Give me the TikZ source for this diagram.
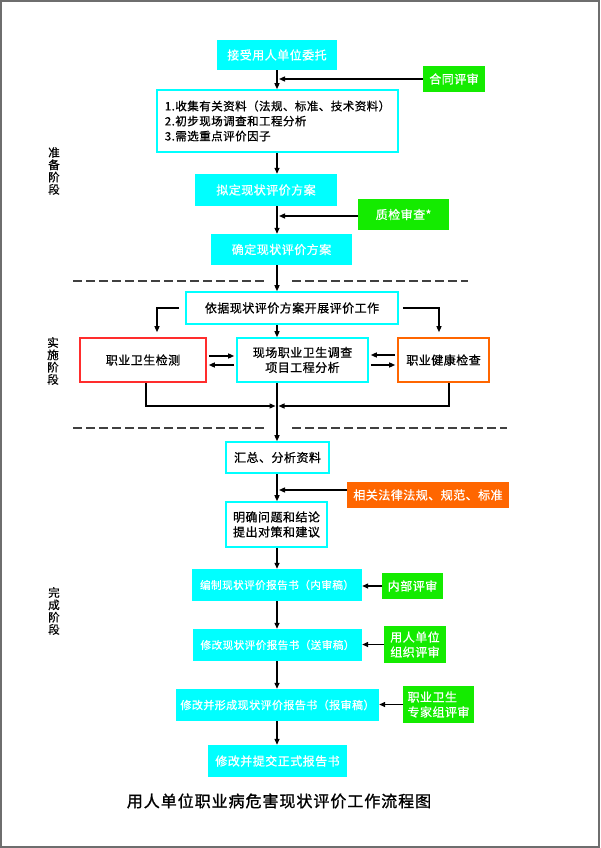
\documentclass[tikz,border=0pt]{standalone}
\usepackage{fontspec}
\setmainfont{Noto Sans CJK SC}[LetterSpace=4,FakeBold=0.8]
\newfontfamily\titlefont{Noto Sans CJK SC}[LetterSpace=6,FakeBold=1.2]
\usetikzlibrary{arrows.meta}
\definecolor{cy}{RGB}{0,255,255}
\definecolor{gr}{RGB}{20,235,0}
\definecolor{og}{RGB}{255,102,0}
\definecolor{rd}{RGB}{255,45,45}
\definecolor{framec}{RGB}{110,110,110}
\newcommand\mkbox[7]{%
  \pgfmathsetmacro\bw{#5-#3}\pgfmathsetmacro\bh{#6-#4}%
  \node[#1, minimum width=\bw pt, minimum height=\bh pt] (#2) at ({(#3+#5)/2},{(#4+#6)/2}) {#7};}
\tikzset{
  box/.style={inner sep=0pt, align=center, font=\fontsize{12}{15}\selectfont},
  cbox/.style={box, fill=cy, text=white},
  obox/.style={box, draw=cy, line width=1.6pt, fill=white, text=black},
  rbox/.style={box, draw=rd, line width=1.6pt, fill=white, text=black},
  orbox/.style={box, draw=og, line width=1.6pt, fill=white, text=black},
  gbox/.style={box, fill=gr, text=white},
  ofbox/.style={box, fill=og, text=white},
  smallfont/.style={font=\fontsize{10.6}{15}\selectfont},
  stage/.style={inner sep=0pt, align=center, font=\fontsize{11.5}{12.3}\selectfont},
  arr/.style={line width=1.3pt, black, -{Triangle[length=6pt,width=5pt]}},
  dsh/.style={line width=1.3pt, black!75, dash pattern=on 9pt off 4pt},
}
\begin{document}
\begin{tikzpicture}[x=1pt,y=-1pt]
\useasboundingbox (0,0) rectangle (600,848);
\fill[white] (0,0) rectangle (600,848);
\draw[framec, line width=2pt] (1,1) rectangle (599,847);

\coordinate (sp) at (277,0);
\coordinate (rl) at (157,0);
\coordinate (rr) at (439,0);
\coordinate (cl) at (146,0);
\coordinate (cr) at (449,0);
\coordinate (jn) at (277,406);

\mkbox{cbox}{b1}{217}{40}{337}{70}{接受用人单位委托}
\mkbox{gbox}{g1}{423}{66}{485}{92}{合同评审}
\mkbox{obox,align=left,font=\fontsize{11.5}{15}\selectfont}{b2}{157}{90}{398}{152}{1.收集有关资料（法规、标准、技术资料）\\2.初步现场调查和工程分析\\3.需选重点评价因子}
\mkbox{cbox}{b3}{195}{174}{337}{206}{拟定现状评价方案}
\mkbox{gbox}{g2}{358}{199}{449}{230}{质检审查*}
\mkbox{cbox}{b4}{211}{234}{352}{265}{确定现状评价方案}
\mkbox{obox}{b5}{186}{292}{398}{324}{依据现状评价方案开展评价工作}
\mkbox{rbox}{r1}{80}{338}{206}{382}{职业卫生检测}
\mkbox{obox}{b6}{237}{338}{368}{382}{现场职业卫生调查\\项目工程分析}
\mkbox{orbox}{r2}{398}{338}{489}{382}{职业健康检查}
\mkbox{obox}{b7}{226}{442}{329}{473}{汇总、分析资料}
\mkbox{ofbox}{o1}{347}{482}{509}{508}{相关法律法规、规范、标准}
\mkbox{obox}{b8}{226}{502}{327}{547}{明确问题和结论\\提出对策和建议}
\mkbox{cbox,smallfont}{b9}{192}{569}{362}{601}{编制现状评价报告书（内审稿）}
\mkbox{gbox}{g3}{382}{573}{443}{599}{内部评审}
\mkbox{cbox,smallfont}{b10}{193}{629}{362}{661}{修改现状评价报告书（送审稿）}
\mkbox{gbox}{g4}{384}{626}{446}{663}{用人单位\\组织评审}
\mkbox{cbox,font=\fontsize{11}{15}\selectfont}{b11}{176}{689}{379}{721}{修改并形成现状评价报告书（报审稿）}
\mkbox{gbox,align=left}{g5}{403}{686}{474}{723}{职业卫生\\专家组评审}
\mkbox{cbox}{b12}{208}{745}{347}{777}{修改并提交正式报告书}

\node[stage] (s1) at (54,171) {准\\备\\阶\\段};
\node[stage] (s2) at (53,361) {实\\施\\阶\\段};
\node[stage] (s3) at (54,611) {完\\成\\阶\\段};

\node[inner sep=0pt, font=\titlefont\fontsize{16}{18}\selectfont] (title) at (279,801) {用人单位职业病危害现状评价工作流程图};

% dashed separators
\draw[dsh] (73,281) -- (265,281);
\draw[dsh] (292,281) -- (468,281);
\draw[dsh] (73,428) -- (265,428);
\draw[dsh] (292,428) -- (507,428);

% connectors
\draw[arr] (b1.south -| sp) -- (b2.north -| sp);
\draw[arr] (g1.west) -- ([xshift=2pt]g1.west -| sp);
\draw[arr] (b2.south -| sp) -- (b3.north -| sp);
\draw[arr] ([yshift=-1.5pt]g2.west) -- ([xshift=2pt,yshift=-1.5pt]g2.west -| sp);
\draw[arr] (b3.south -| sp) -- (b4.north -| sp);
\draw[arr] (b4.south -| sp) -- (b5.north -| sp);

\draw[arr] ([xshift=-6pt]b5.west) -| ([yshift=5pt]r1.north -| rl);
\draw[arr] ([xshift=4pt]b5.east) -| ([yshift=5pt]r2.north -| rr);
\draw[arr] (b5.south -| sp) -- (b6.north -| sp);

\draw[arr] ([xshift=2pt,yshift=4pt]r1.east) -- ([xshift=-2pt,yshift=4pt]b6.west);
\draw[arr] ([xshift=-2pt,yshift=-5pt]b6.west) -- ([xshift=2pt,yshift=-5pt]r1.east);
\draw[arr] ([xshift=-2pt,yshift=5pt]r2.west) -- ([xshift=2pt,yshift=5pt]b6.east);
\draw[arr] ([xshift=2pt,yshift=-5pt]b6.east) -- ([xshift=-2pt,yshift=-5pt]r2.west);

\draw[arr] (r1.south -| cl) |- ([xshift=-1.5pt]jn);
\draw[arr] (r2.south -| cr) |- ([xshift=1.5pt]jn);
\draw[arr] (b6.south -| sp) -- (b7.north -| sp);

\draw[arr] (b7.south -| sp) -- (b8.north -| sp);
\draw[arr] ([yshift=5pt]o1.west) -- ([xshift=2pt,yshift=5pt]o1.west -| sp);
\draw[arr] (b8.south -| sp) -- (b9.north -| sp);
\draw[arr] (g3.west) -- (g3.west -| b9.east);
\draw[arr] (b9.south -| sp) -- (b10.north -| sp);
\draw[arr] (g4.west) -- (g4.west -| b10.east);
\draw[arr] (b10.south -| sp) -- (b11.north -| sp);
\draw[arr] (g5.west) -- (g5.west -| b11.east);
\draw[arr] (b11.south -| sp) -- (b12.north -| sp);
\end{tikzpicture}
\end{document}
